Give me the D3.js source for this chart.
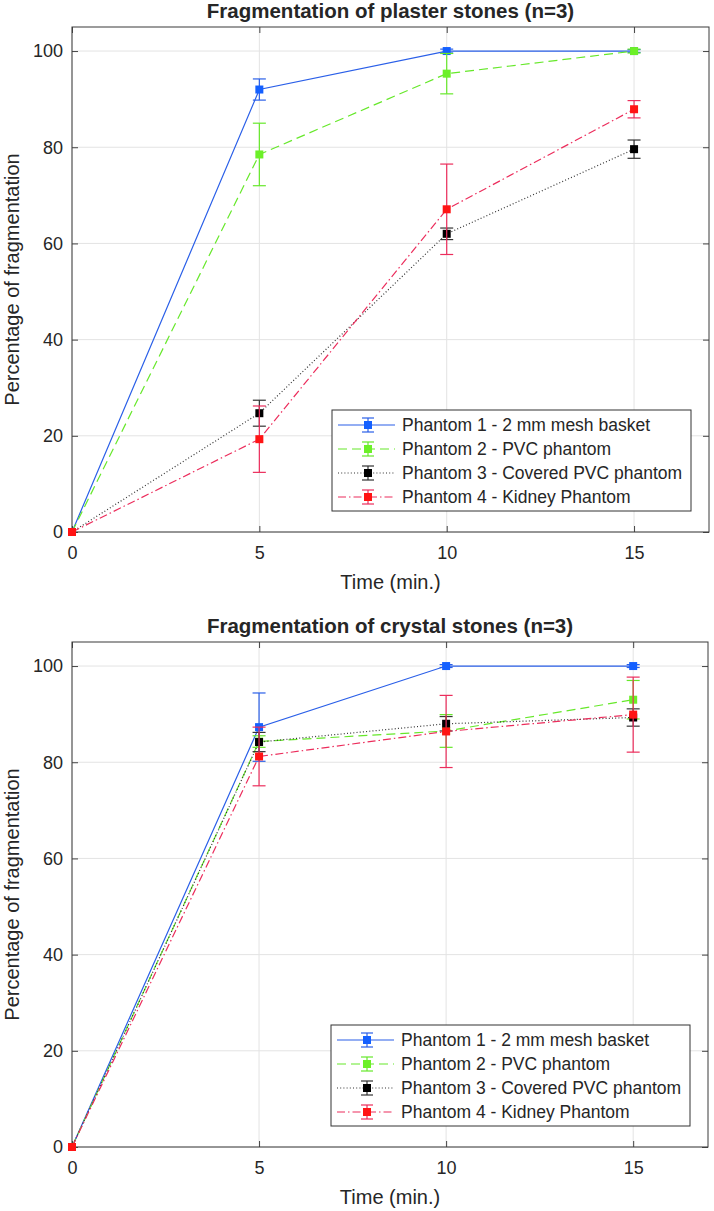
<!DOCTYPE html>
<html>
<head>
<meta charset="utf-8">
<script src="https://cdn.jsdelivr.net/npm/d3@7"></script>
<style>
  html, body { margin: 0; padding: 0; background: #fff; }
  svg { display: block; }
  text { font-family: "Liberation Sans", Arial, Helvetica, sans-serif; fill: #262626; }
</style>
</head>
<body>
<svg id="chart" width="714" height="1211"></svg>
<script>
// ---------------- data ----------------
const times = [0, 5, 10, 15];
const xTicks = [0, 5, 10, 15];
const yTicks = [0, 20, 40, 60, 80, 100];
const seriesNames = [
  "Phantom 1 - 2 mm mesh basket",
  "Phantom 2 - PVC phantom",
  "Phantom 3 - Covered PVC phantom",
  "Phantom 4 - Kidney Phantom"
];

// plaster stones
const plasterP1 = [0, 92.0, 100, 100];
const plasterP1Err = [0, 2.2, 0.4, 0.3];
const plasterP2 = [0, 78.5, 95.3, 100];
const plasterP2Err = [0, 6.5, 4.2, 0.4];
const plasterP3 = [0, 24.7, 62.0, 79.6];
const plasterP3Err = [0, 2.7, 1.2, 1.9];
const plasterP4 = [0, 19.3, 67.1, 87.9];
const plasterP4Err = [0, 6.9, 9.4, 1.8];

// crystal stones
const crystalP1 = [0, 87.3, 100, 100];
const crystalP1Err = [0, 7.1, 0.3, 0.3];
const crystalP2 = [0, 84.3, 86.5, 93.0];
const crystalP2Err = [0, 1.2, 3.4, 4.0];
const crystalP3 = [0, 84.2, 88.0, 89.3];
const crystalP3Err = [0, 2.0, 1.5, 1.8];
const crystalP4 = [0, 81.2, 86.4, 89.9];
const crystalP4Err = [0, 6.1, 7.5, 7.8];

const titles = ["Fragmentation of plaster stones (n=3)", "Fragmentation of crystal stones (n=3)"];
const xLabel = "Time (min.)";
const yLabel = "Percentage of fragmentation";

// ---------------- styles ----------------
const styles = [
  { line: "#2a5fe8", marker: "#1460ff", dash: null },
  { line: "#66e82a", marker: "#6cf028", dash: "9,5" },
  { line: "#333333", marker: "#000000", dash: "1,2.2" },
  { line: "#ec2d5c", marker: "#ff1414", dash: "8,3,1.5,3" }
];

const panels = [
  { title: titles[0], top: 27, bottom: 532, right: 709,
    values: [plasterP1, plasterP2, plasterP3, plasterP4],
    errs: [plasterP1Err, plasterP2Err, plasterP3Err, plasterP4Err] },
  { title: titles[1], top: 642, bottom: 1147, right: 708,
    values: [crystalP1, crystalP2, crystalP3, crystalP4],
    errs: [crystalP1Err, crystalP2Err, crystalP3Err, crystalP4Err] }
];

const svg = d3.select("#chart");
const left = 72;

panels.forEach(p => {
  const W = p.right - left, H = p.bottom - p.top;
  const x = d3.scaleLinear().domain([0, 17]).range([0, W]);
  const y = d3.scaleLinear().domain([0, 105]).range([H, 0]);
  const g = svg.append("g").attr("transform", `translate(${left},${p.top})`);

  // grid
  g.append("g").selectAll("line").data(xTicks).join("line")
    .attr("x1", d => x(d)).attr("x2", d => x(d)).attr("y1", 0).attr("y2", H)
    .attr("stroke", "#e3e3e3").attr("stroke-width", 1);
  g.append("g").selectAll("line").data(yTicks).join("line")
    .attr("x1", 0).attr("x2", W).attr("y1", d => y(d)).attr("y2", d => y(d))
    .attr("stroke", "#e3e3e3").attr("stroke-width", 1);

  // axes
  const fs = 18;
  const ax = g.append("g").attr("transform", `translate(0,${H})`)
    .call(d3.axisBottom(x).tickValues(xTicks).tickSize(-6).tickPadding(14).tickSizeOuter(0));
  const ay = g.append("g")
    .call(d3.axisLeft(y).tickValues(yTicks).tickSize(-6).tickPadding(9).tickSizeOuter(0));
  const axT = g.append("g")
    .call(d3.axisTop(x).tickValues(xTicks).tickSize(-6).tickFormat("").tickSizeOuter(0));
  const ayR = g.append("g").attr("transform", `translate(${W},0)`)
    .call(d3.axisRight(y).tickValues(yTicks).tickSize(-6).tickFormat("").tickSizeOuter(0));
  [ax, ay, axT, ayR].forEach(a => {
    a.select(".domain").remove();
    a.selectAll(".tick line").attr("stroke", "#444");
    a.selectAll("text").attr("font-size", fs).attr("fill", "#262626")
      .attr("font-family", "Liberation Sans, Arial, sans-serif");
  });
  // box
  g.append("rect").attr("x", 0).attr("y", 0).attr("width", W).attr("height", H)
    .attr("fill", "none").attr("stroke", "#3a3a3a").attr("stroke-width", 1);

  // series
  p.values.forEach((vals, si) => {
    const st = styles[si];
    const errs = p.errs[si];
    const pts = times.map((t, i) => ({ t, v: vals[i], e: errs[i] }));
    const sg = g.append("g");
    sg.append("path").datum(pts)
      .attr("d", d3.line().x(d => x(d.t)).y(d => y(d.v)))
      .attr("fill", "none").attr("stroke", st.line).attr("stroke-width", 1.2)
      .attr("stroke-dasharray", st.dash);
    const eb = sg.selectAll("g.eb").data(pts.filter(d => d.e > 0)).join("g");
    eb.append("line")
      .attr("x1", d => x(d.t)).attr("x2", d => x(d.t))
      .attr("y1", d => y(d.v - d.e)).attr("y2", d => y(d.v + d.e))
      .attr("stroke", st.line).attr("stroke-width", 1.2);
    [-1, 1].forEach(s => {
      eb.append("line")
        .attr("x1", d => x(d.t) - 6.5).attr("x2", d => x(d.t) + 6.5)
        .attr("y1", d => y(d.v + s * d.e)).attr("y2", d => y(d.v + s * d.e))
        .attr("stroke", st.line).attr("stroke-width", 1.2);
    });
    sg.selectAll("rect").data(pts).join("rect")
      .attr("x", d => x(d.t) - 4).attr("y", d => y(d.v) - 4)
      .attr("width", 8).attr("height", 8)
      .attr("fill", st.marker);
  });

  // title
  svg.append("text").attr("x", left + W / 2).attr("y", p.top - 9)
    .attr("text-anchor", "middle").attr("font-size", 20.5).attr("font-weight", "bold")
    .attr("fill", "#000").text(p.title);
  // x label
  svg.append("text").attr("x", left + W / 2).attr("y", p.bottom + 57)
    .attr("text-anchor", "middle").attr("font-size", 20).text(xLabel);
  // y label
  svg.append("text").attr("transform", `translate(19,${p.top + H / 2}) rotate(-90)`)
    .attr("text-anchor", "middle").attr("font-size", 20).text(yLabel);

  // legend
  const lgW = 359, lgH = 101;
  const lg = g.append("g").attr("transform", `translate(${W - 18 - lgW},${H - 21 - lgH})`);
  lg.append("rect").attr("width", lgW).attr("height", lgH)
    .attr("fill", "#fff").attr("stroke", "#333").attr("stroke-width", 1);
  seriesNames.forEach((name, si) => {
    const st = styles[si];
    const ry = 15 + si * 24;
    const row = lg.append("g").attr("transform", `translate(0,${ry})`);
    row.append("line").attr("x1", 6).attr("x2", 63).attr("y1", 0).attr("y2", 0)
      .attr("stroke", st.line).attr("stroke-width", 1.2).attr("stroke-dasharray", st.dash);
    row.append("line").attr("x1", 36).attr("x2", 36).attr("y1", -7).attr("y2", 7)
      .attr("stroke", st.line).attr("stroke-width", 1.2);
    [-7, 7].forEach(o => row.append("line").attr("x1", 30).attr("x2", 42)
      .attr("y1", o).attr("y2", o).attr("stroke", st.line).attr("stroke-width", 1.2));
    row.append("rect").attr("x", 32).attr("y", -4).attr("width", 8).attr("height", 8)
      .attr("fill", st.marker);
    row.append("text").attr("x", 70).attr("y", 0).attr("dy", "0.35em")
      .attr("font-size", 17.5).attr("fill", "#1a1a1a").text(name);
  });
});
</script>
</body>
</html>
